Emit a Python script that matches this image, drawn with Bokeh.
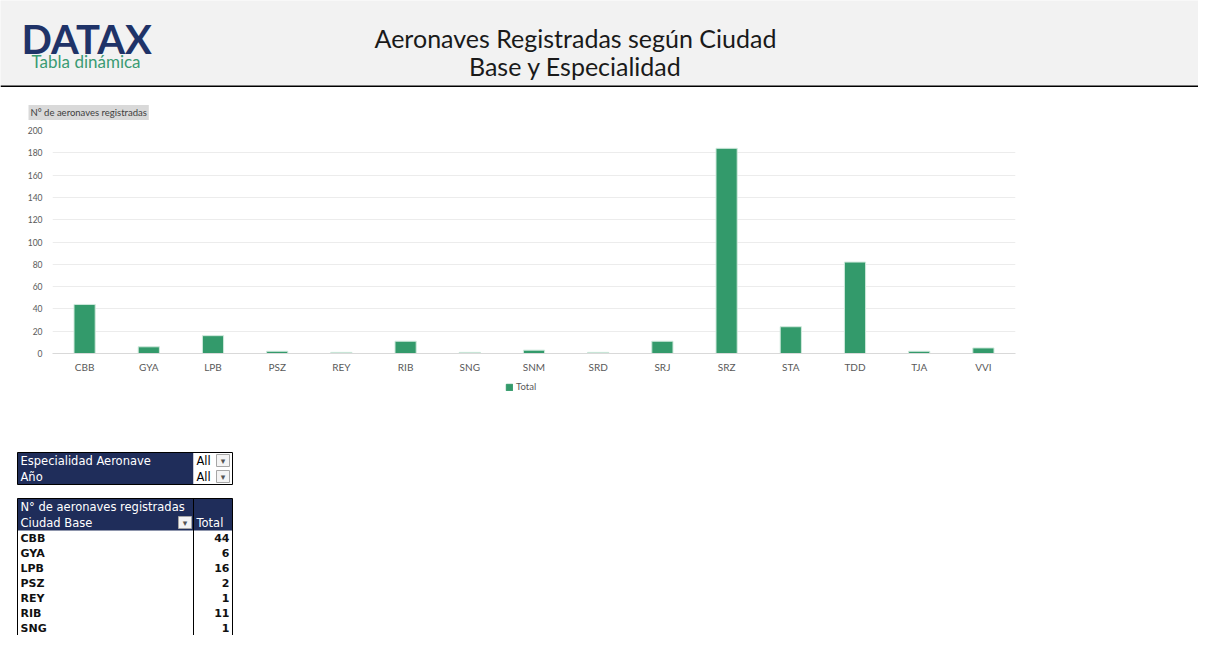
from bokeh.plotting import figure
from bokeh.layouts import column
from bokeh.models import (Range1d, FactorRange, Label, Legend, LegendItem,
                          ColumnDataSource, FixedTicker)
from bokeh.core.properties import value
from bokeh.embed import file_html
from bokeh.resources import INLINE

# ---------------- data ----------------
cities = ["CBB", "GYA", "LPB", "PSZ", "REY", "RIB", "SNG", "SNM", "SRD", "SRJ",
          "SRZ", "STA", "TDD", "TJA", "VVI"]
totals = [44, 6, 16, 2, 1, 11, 1, 3, 1, 11, 184, 24, 82, 2, 5]
y_ticks = [0, 20, 40, 60, 80, 100, 120, 140, 160, 180, 200]
series_name = "Total"
y_title = "N° de aeronaves registradas"
title_lines = ["Aeronaves Registradas según Ciudad", "Base y Especialidad"]
logo_text = "DATAX"
logo_sub = "Tabla dinámica"
filter_fields = ["Especialidad Aeronave", "Año"]
filter_values = ["All", "All"]
pivot_header = "N° de aeronaves registradas"
pivot_row_field = "Ciudad Base"
pivot_col_field = "Total"

W = 1198
H_TOTAL = 635
NAVY = "#1f2d5a"
GREEN = "#339a6b"
FONT = "Lato"
TFONT = "DejaVu Sans"


def blank_fig(height, bg="white"):
    f = figure(width=W, height=height, x_range=Range1d(0, W), y_range=Range1d(height, 0),
               x_axis_location=None, y_axis_location=None,
               min_border_left=0, min_border_right=0, min_border_top=0, min_border_bottom=0,
               toolbar_location=None, output_backend="svg")
    f.frame_align = False
    f.grid.visible = False
    f.outline_line_color = None
    f.background_fill_color = bg
    f.border_fill_color = bg
    return f


# ---------------- header (page y 0..87) ----------------
HH = 87
h = blank_fig(HH, "#f2f2f2")
h.quad(left=0, right=W, top=85, bottom=87, fill_color="black", line_color=None)
h.text(x=[21], y=[38], text=[logo_text], text_font=value(FONT), text_font_style="bold",
       text_font_size="40px", text_color="#1f3368", text_baseline="alphabetic")
h.text(x=[31], y=[61], text=[logo_sub], text_font=value(FONT),
       text_font_size="17px", text_color="#3a9b73", text_baseline="alphabetic")
h.text(x=[575, 575], y=[37, 65], text=title_lines, text_font=value(FONT),
       text_font_size="25px", text_color="#1a1a1a", text_align="center",
       text_baseline="alphabetic")

# ---------------- strip with the value-axis title (87..124) ----------------
SH1 = 37
s1 = blank_fig(SH1)
s1.add_layout(Label(x=28, y=112 - HH, text=y_title, text_font=FONT, text_font_size="9.5px",
                    text_color="#404040", background_fill_color="#d9d9d9",
                    text_baseline="middle", padding=2))

# ---------------- chart (124..376) ----------------
CH = 252
FR_TOP = 130 - (HH + SH1)
FR_H = 223
src = ColumnDataSource(dict(city=cities, total=totals))
p = figure(width=W, height=CH, x_range=FactorRange(*cities), y_range=Range1d(0, 200),
           min_border_left=52, min_border_right=W - 52 - 963, min_border_top=FR_TOP,
           min_border_bottom=CH - FR_TOP - FR_H,
           toolbar_location=None, output_backend="svg")
p.outline_line_color = None
p.background_fill_color = "white"
p.border_fill_color = "white"
bars = p.vbar(x="city", top="total", width=0.33, source=src, fill_color=GREEN,
              line_color="#cfe9dc", line_width=1)
p.xgrid.visible = False
p.ygrid.ticker = FixedTicker(ticks=y_ticks)
p.ygrid.grid_line_color = "#ececec"
p.yaxis.ticker = FixedTicker(ticks=y_ticks)
p.yaxis.axis_line_color = None
p.yaxis.major_tick_line_color = None
p.yaxis.minor_tick_line_color = None
p.yaxis.major_tick_out = 0
p.yaxis.minor_tick_out = 0
p.yaxis.major_label_standoff = 10
p.yaxis.major_label_text_font = FONT
p.yaxis.major_label_text_font_size = "8.5px"
p.yaxis.major_label_text_color = "#595959"
p.xaxis.axis_line_color = "#d9d9d9"
p.xaxis.major_tick_line_color = None
p.xaxis.major_tick_out = 0
p.xaxis.major_label_standoff = 7
p.xaxis.major_label_text_font = FONT
p.xaxis.major_label_text_font_size = "10px"
p.xaxis.major_label_text_color = "#595959"

# ---------------- legend strip (376..400) ----------------
SH2 = 24
s2 = blank_fig(SH2)
# zero-size proxy glyph that only provides the legend key
key = s2.vbar(x=[0], top=[0], bottom=[0], width=0, fill_color=GREEN, line_color=GREEN)
legend = Legend(items=[LegendItem(label=series_name, renderers=[key])],
                location=(505, 8), orientation="horizontal", padding=0, margin=0,
                border_line_color=None, background_fill_alpha=0, glyph_width=8,
                glyph_height=8, label_text_font=FONT, label_text_font_size="9.5px",
                label_text_color="#595959", label_standoff=3, label_height=10)
s2.add_layout(legend)

# ---------------- filter + pivot table (400..635) ----------------
T0 = HH + SH1 + CH + SH2
TH = H_TOTAL - T0
t = blank_fig(TH)

L, M, R = 17, 193, 232
RH = 16
# filter block
f_top = 452 - T0
nf = len(filter_fields)
ftops = [f_top + RH * i for i in range(nf)]
t.quad(left=L, right=M, top=f_top, bottom=f_top + RH * nf, fill_color=NAVY, line_color=None)
t.quad(left=M, right=R - 1, top=f_top, bottom=f_top + RH * nf, fill_color="white", line_color=None)
t.quad(left=L, right=R, top=f_top, bottom=f_top + RH * nf, fill_color=None,
       line_color="black", line_width=1)
t.text(x=[L + 3] * nf, y=[y + RH / 2 for y in ftops], text=filter_fields, text_font=value(TFONT),
       text_font_size="11.5px", text_color="white", text_baseline="middle")
t.text(x=[M + 3] * nf, y=[y + RH / 2 for y in ftops], text=filter_values, text_font=value(TFONT),
       text_font_size="11.5px", text_color="black", text_baseline="middle")
t.quad(left=[216] * nf, right=[229] * nf, top=[y + 2 for y in ftops], bottom=[y + 14 for y in ftops],
       fill_color="#f4f4f4", line_color="#a6a6a6")
t.text(x=[222.5] * nf, y=[y + 8 for y in ftops], text=["▾"] * nf, text_font=value(TFONT),
       text_font_size="9px", text_color="#555555", text_align="center", text_baseline="middle")

# pivot block
p_top = 498 - T0
t.quad(left=L, right=R, top=p_top, bottom=p_top + 2 * RH, fill_color=NAVY, line_color=None)
t.segment(x0=[M], y0=[p_top], x1=[M], y1=[p_top + 2 * RH], line_color="#3b4a7a", line_width=1)
t.text(x=[L + 3, L + 3, M + 3], y=[p_top + RH / 2, p_top + 1.5 * RH, p_top + 1.5 * RH],
       text=[pivot_header, pivot_row_field, pivot_col_field], text_font=value(TFONT),
       text_font_size="11.5px", text_color="white", text_baseline="middle")
t.quad(left=[178], right=[191], top=[p_top + RH + 2], bottom=[p_top + RH + 14],
       fill_color="#f4f4f4", line_color="#a6a6a6")
t.text(x=[184.5], y=[p_top + RH + 8], text=["▾"], text_font=value(TFONT),
       text_font_size="9px", text_color="#555555", text_align="center", text_baseline="middle")

DRH = 15
d_top = p_top + 2 * RH
n_rows = min(len(cities), int((TH - d_top) // DRH))
row_y = [d_top + DRH * i + DRH / 2 for i in range(n_rows)]
t.text(x=[L + 3] * n_rows, y=row_y, text=cities[:n_rows], text_font=value(TFONT),
       text_font_size="11px", text_font_style="bold", text_color="#111111", text_baseline="middle")
t.text(x=[R - 3] * n_rows, y=row_y, text=[str(v) for v in totals[:n_rows]], text_font=value(TFONT),
       text_font_size="11px", text_font_style="bold", text_color="#111111",
       text_align="right", text_baseline="middle")
t.segment(x0=[L, M, R], y0=[p_top] * 3, x1=[L, M, R], y1=[TH + 5] * 3,
          line_color="black", line_width=1)
t.segment(x0=[L], y0=[p_top], x1=[R], y1=[p_top], line_color="black", line_width=1)

layout = column(h, s1, p, s2, t, spacing=0)
open("out.html", "w").write(file_html(layout, INLINE))
